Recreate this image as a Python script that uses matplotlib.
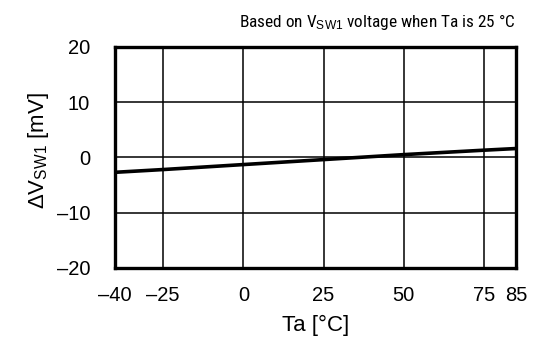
import matplotlib
matplotlib.use("Agg")
import matplotlib.pyplot as plt

plt.rcParams['font.family'] = ['Liberation Sans', 'DejaVu Sans']
plt.rcParams['mathtext.fontset'] = 'custom'
plt.rcParams['mathtext.rm'] = 'Liberation Sans'
plt.rcParams['mathtext.it'] = 'Liberation Sans'

# Data
temps = [-40, -25, 0, 25, 50, 75, 85]
delta_v = [-2.7, -2.2, -1.3, -0.4, 0.5, 1.3, 1.6]
x_ticks = [-40, -25, 0, 25, 50, 75, 85]
y_ticks = [-20, -10, 0, 10, 20]

fig = plt.figure(figsize=(5.33, 3.37), dpi=100)
ax = fig.add_axes([0.216, 0.205, 0.752, 0.656])

ax.plot(temps, delta_v, color='black', lw=2.6, solid_capstyle='butt')

ax.set_xlim(-40, 85)
ax.set_ylim(-20, 20)
ax.set_xticks(x_ticks)
ax.set_yticks(y_ticks)
ax.set_xticklabels([f"{t}".replace('-', '\u2013') for t in x_ticks])
ax.set_yticklabels([f"{t}".replace('-', '\u2013') for t in y_ticks])
ax.tick_params(length=0, labelsize=14.5)
ax.tick_params(axis='y', pad=18)
ax.tick_params(axis='x', pad=13)
ax.grid(True, color='black', lw=1.1)
for s in ax.spines.values():
    s.set_linewidth(2.4)
    s.set_zorder(5)

ax.set_xlabel('Ta [°C]', fontsize=16, labelpad=7)
ax.set_ylabel(r'$\Delta$V$_{\mathrm{SW1}}$ [mV]', fontsize=16)
ax.yaxis.set_label_coords(-0.16, 0.53)

fig.text(0.968, 0.92, 'Based on V$_{\\mathrm{SW1}}$ voltage when Ta is 25 °C',
         ha='right', va='baseline', fontsize=12.4,
         family=['Roboto Condensed', 'Liberation Sans', 'DejaVu Sans'])

fig.savefig('out.png', dpi=100)
